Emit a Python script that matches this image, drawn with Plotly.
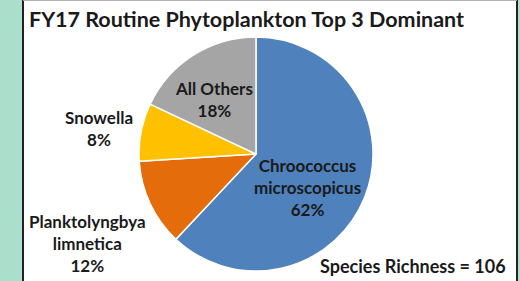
import plotly.graph_objects as go

title = "FY17 Routine Phytoplankton Top 3 Dominant"
labels = ["Chroococcus<br>microscopicus", "Planktolyngbya<br>limnetica", "Snowella", "All Others"]
values = [62, 12, 8, 18]
colors = ["#4F81BD", "#E46C0A", "#FFC000", "#A5A5A5"]
note = "Species Richness = 106"

W, H = 520, 281
FONT = "Lato"

fig = go.Figure()
fig.add_trace(go.Pie(
    labels=labels, values=values, sort=False, direction="clockwise", rotation=0,
    marker=dict(colors=colors, line=dict(color="white", width=1.5)),
    textinfo="none", hoverinfo="label+percent", showlegend=False,
    domain=dict(x=[139 / W, 373 / W], y=[10 / H, 244 / H]),
))

total = sum(values)
# label anchor positions in pixels (x, y from top)
label_pos = [(307, 187), (87, 243), (99, 128), (214, 100)]
for lab, v, (px, py) in zip(labels, values, label_pos):
    fig.add_annotation(
        x=px / W, y=1 - py / H, xref="paper", yref="paper",
        text=f"<b>{lab}<br>{round(100 * v / total)}%</b>",
        showarrow=False, xanchor="center", yanchor="middle",
        font=dict(family=FONT, size=17, color="#1a1a1a"), align="center",
    )

fig.add_annotation(
    x=508 / W, y=1 - 266 / H, xref="paper", yref="paper",
    text=f"<b>{note}</b>", showarrow=False, xanchor="right", yanchor="middle",
    font=dict(family=FONT, size=18, color="#1a1a1a"),
)
fig.add_annotation(
    x=27 / W, y=1 - 19 / H, xref="paper", yref="paper",
    text=f"<b>{title}</b>", showarrow=False, xanchor="left", yanchor="middle",
    font=dict(family=FONT, size=21.5, color="#1a1a1a"),
)

# white panel with borders
fig.add_shape(type="rect", xref="paper", yref="paper", x0=22 / W, x1=518 / W, y0=0, y1=1,
              fillcolor="white", line=dict(width=0), layer="below")
fig.add_shape(type="line", xref="paper", yref="paper", x0=23 / W, x1=23 / W, y0=0, y1=1,
              line=dict(color="#222222", width=2))
fig.add_shape(type="line", xref="paper", yref="paper", x0=517 / W, x1=517 / W, y0=0, y1=1,
              line=dict(color="#222222", width=2))
fig.add_shape(type="line", xref="paper", yref="paper", x0=23 / W, x1=517 / W, y0=1 - 0.5 / H, y1=1 - 0.5 / H,
              line=dict(color="#B0B0B0", width=1))

fig.update_layout(
    width=W, height=H, margin=dict(l=0, r=0, t=0, b=0),
    paper_bgcolor="#AADFCC", plot_bgcolor="white",
    font=dict(family=FONT),
)
fig.write_html("out.html", include_plotlyjs=True, config={"displayModeBar": False},
               post_script="document.body.style.margin='0';document.body.style.padding='0';"
                           "document.documentElement.style.overflow='hidden';")
